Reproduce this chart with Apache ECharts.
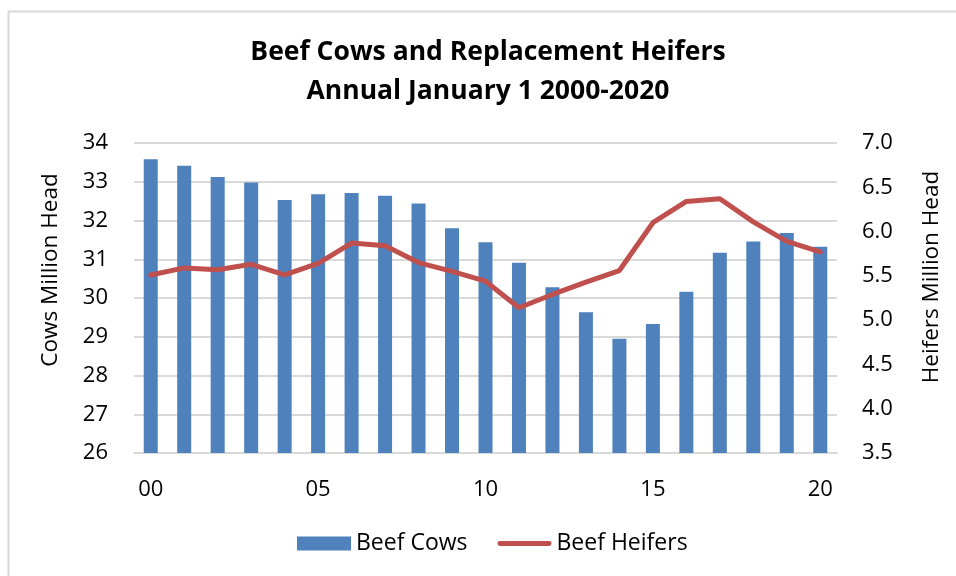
<!DOCTYPE html>
<html>
<head>
<meta charset="utf-8">
<style>html,body{margin:0;padding:0;background:#fff;}#c{width:956px;height:576px;}</style>
<script src="https://cdn.jsdelivr.net/npm/echarts@6/dist/echarts.min.js"></script>
</head>
<body>
<div id="c"></div>
<script>
var categories = ['00','01','02','03','04','05','06','07','08','09','10','11','12','13','14','15','16','17','18','19','20'];
var beefCows = [33.58,33.41,33.12,32.98,32.53,32.68,32.71,32.64,32.44,31.80,31.44,30.91,30.28,29.63,28.95,29.33,30.16,31.17,31.46,31.68,31.32];
var beefHeifers = [5.51,5.59,5.57,5.63,5.51,5.64,5.87,5.84,5.65,5.55,5.44,5.14,5.29,5.43,5.56,6.10,6.34,6.37,6.11,5.89,5.77];
var titleLines = ['Beef Cows and Replacement Heifers', 'Annual January 1 2000-2020'];
var leftName = 'Cows Million Head';
var rightName = 'Heifers Million Head';

var FONT = '"Open Sans", sans-serif';
var chart = echarts.init(document.getElementById('c'), null, {renderer: 'canvas'});
chart.setOption({
  backgroundColor: '#fff',
  animation: false,
  graphic: [
    {type: 'rect', shape: {x: 8.5, y: 11.5, width: 960, height: 580}, style: {fill: 'none', stroke: '#d9d9d9', lineWidth: 2}, silent: true},
    {type: 'text', x: 488, y: 52, style: {text: titleLines[0], font: 'bold 26.5px ' + FONT, fill: '#000', textAlign: 'center', textVerticalAlign: 'middle'}},
    {type: 'text', x: 488, y: 91, style: {text: titleLines[1], font: 'bold 26.5px ' + FONT, fill: '#000', textAlign: 'center', textVerticalAlign: 'middle'}},
    {type: 'text', x: 51, y: 270, rotation: Math.PI / 2, style: {text: leftName, font: '22.5px ' + FONT, fill: '#000', textAlign: 'center', textVerticalAlign: 'middle'}},
    {type: 'text', x: 932, y: 277, rotation: Math.PI / 2, style: {text: rightName, font: '22.5px ' + FONT, fill: '#000', textAlign: 'center', textVerticalAlign: 'middle'}}
  ],
  legend: {
    left: 297, top: 532, padding: 0,
    itemWidth: 54, itemHeight: 14, itemGap: 30,
    textStyle: {fontFamily: FONT, fontSize: 23, color: '#000'},
    data: [
      {name: 'Beef Cows', icon: 'rect'},
      {name: 'Beef Heifers', icon: 'path://M2.5,0 L53.5,0 A2.5,2.5 0 0 1 53.5,5 L2.5,5 A2.5,2.5 0 0 1 2.5,0 Z'}
    ]
  },
  grid: {left: 134, right: 119, top: 143, bottom: 123, containLabel: false},
  xAxis: {
    type: 'category', data: categories,
    axisTick: {show: false},
    axisLine: {lineStyle: {color: '#d9d9d9', width: 2}},
    axisLabel: {interval: 4, margin: 26, fontFamily: FONT, fontSize: 22, color: '#000'}
  },
  yAxis: [
    {type: 'value', min: 26, max: 34, interval: 1,
     axisLine: {show: false}, axisTick: {show: false},
     axisLabel: {margin: 26, fontFamily: FONT, fontSize: 22, color: '#000'},
     splitLine: {lineStyle: {color: '#d9d9d9', width: 2}}},
    {type: 'value', min: 3.5, max: 7, interval: 0.5, position: 'right',
     axisLine: {show: false}, axisTick: {show: false},
     axisLabel: {margin: 25, fontFamily: FONT, fontSize: 22, color: '#000', formatter: function (v) { return v.toFixed(1); }},
     splitLine: {show: false}}
  ],
  series: [
    {name: 'Beef Cows', type: 'bar', data: beefCows, barWidth: 14, yAxisIndex: 0,
     itemStyle: {color: '#4f81bd'}},
    {name: 'Beef Heifers', type: 'line', data: beefHeifers, yAxisIndex: 1,
     symbol: 'none', symbolKeepAspect: true, lineStyle: {color: '#c0504d', width: 5, join: 'round', cap: 'round'},
     itemStyle: {color: '#c0504d'}}
  ]
});
</script>
</body>
</html>
